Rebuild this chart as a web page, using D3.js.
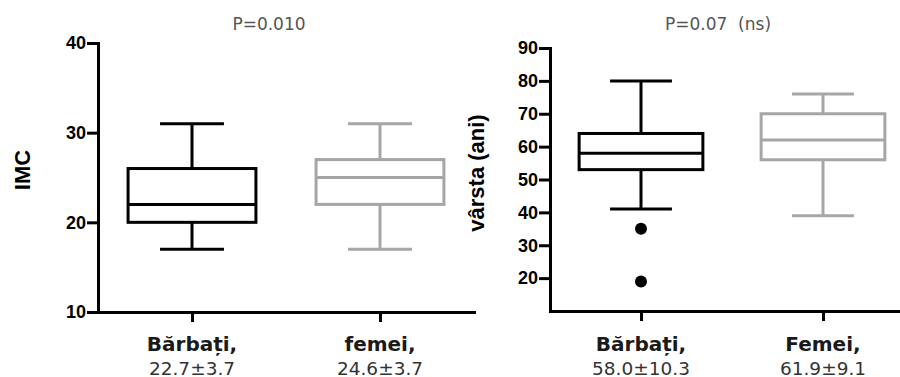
<!DOCTYPE html>
<html>
<head>
<meta charset="utf-8">
<script src="https://cdn.jsdelivr.net/npm/d3@7"></script>
<style>
  body { margin: 0; background: #fff; }
  svg { display: block; }
</style>
</head>
<body>
<div id="chart"></div>
<script>
// IMC panel
const imcCategories = ['Bărbați,', 'femei,'];
const imcStats = ['22.7±3.7', '24.6±3.7'];
const imcLow = [17, 17];
const imcQ1 = [20, 22];
const imcMedian = [22, 25];
const imcQ3 = [26, 27];
const imcHigh = [31, 31];
const imcOutliers = [[], []];
const imcTicks = [10, 20, 30, 40];

// age panel
const ageCategories = ['Bărbați,', 'Femei,'];
const ageStats = ['58.0±10.3', '61.9±9.1'];
const ageLow = [41, 39];
const ageQ1 = [53, 56];
const ageMedian = [58, 62];
const ageQ3 = [64, 70];
const ageHigh = [80, 76];
const ageOutliers = [[35, 19], []];
const ageTicks = [20, 30, 40, 50, 60, 70, 80, 90];

const boxColors = ['#000000', '#a6a6a6'];

const width = 900;
const height = 377;

const svg = d3.select('#chart').append('svg')
    .attr('width', width)
    .attr('height', height);

function drawPanel(opts) {
    const g = svg.append('g');

    const x = d3.scalePoint()
        .domain(opts.categories)
        .range(opts.xRange)
        .padding(0.5);
    const step = x.step();
    const boxW = step * 0.68;
    const capW = boxW / 2;

    const y = d3.scaleLinear()
        .domain(opts.yDomain)
        .range(opts.yRange);

    const rows = opts.categories.map((c, i) => ({
        key: c,
        stat: opts.stats[i],
        low: opts.low[i],
        q1: opts.q1[i],
        median: opts.median[i],
        q3: opts.q3[i],
        high: opts.high[i],
        outliers: opts.outliers[i],
        color: boxColors[i]
    }));

    // whisker stems
    g.selectAll('.stem').data(rows).enter().append('line')
        .attr('x1', d => x(d.key)).attr('x2', d => x(d.key))
        .attr('y1', d => y(d.low)).attr('y2', d => y(d.high))
        .attr('stroke', d => d.color).attr('stroke-width', 3);

    // boxes
    g.selectAll('.box').data(rows).enter().append('rect')
        .attr('x', d => x(d.key) - boxW / 2)
        .attr('width', boxW)
        .attr('y', d => y(d.q3))
        .attr('height', d => y(d.q1) - y(d.q3))
        .attr('fill', '#fff')
        .attr('stroke', d => d.color)
        .attr('stroke-width', 3);

    // median line
    g.selectAll('.median').data(rows).enter().append('line')
        .attr('x1', d => x(d.key) - boxW / 2).attr('x2', d => x(d.key) + boxW / 2)
        .attr('y1', d => y(d.median)).attr('y2', d => y(d.median))
        .attr('stroke', d => d.color).attr('stroke-width', 3);

    // caps
    ['low', 'high'].forEach(k => {
        g.selectAll('.cap-' + k).data(rows).enter().append('line')
            .attr('x1', d => x(d.key) - capW / 2).attr('x2', d => x(d.key) + capW / 2)
            .attr('y1', d => y(d[k])).attr('y2', d => y(d[k]))
            .attr('stroke', d => d.color).attr('stroke-width', 3);
    });

    // outliers
    rows.forEach(r => {
        g.selectAll(null).data(r.outliers).enter().append('circle')
            .attr('cx', x(r.key))
            .attr('cy', v => y(v))
            .attr('r', 6)
            .attr('fill', r.color);
    });

    // y axis
    const yAxis = g.append('g')
        .attr('transform', 'translate(' + opts.xRange[0] + ',0)')
        .call(d3.axisLeft(y).tickValues(opts.ticks).tickSize(11).tickSizeOuter(0).tickPadding(1));
    yAxis.select('.domain').attr('stroke-width', 3).attr('stroke-linecap', 'square');
    yAxis.selectAll('.tick line').attr('stroke-width', 3);
    yAxis.selectAll('.tick text')
        .attr('font-family', 'Liberation Sans, Arial, sans-serif')
        .attr('font-weight', 'bold')
        .attr('font-size', 18)
        .attr('fill', '#000');

    // x axis
    const xAxis = g.append('g')
        .attr('transform', 'translate(0,' + y(opts.yDomain[0]) + ')')
        .call(d3.axisBottom(x).tickSize(10).tickSizeOuter(0).tickFormat(''));
    xAxis.select('.domain').attr('stroke-width', 3).attr('stroke-linecap', 'square');
    xAxis.selectAll('.tick line').attr('stroke-width', 3);
    xAxis.selectAll('.tick text').remove();

    g.selectAll('.cat').data(rows).enter().append('text')
        .attr('x', d => x(d.key))
        .attr('y', 351)
        .attr('text-anchor', 'middle')
        .attr('font-family', 'DejaVu Sans, sans-serif')
        .attr('font-weight', 'bold')
        .attr('font-size', 20)
        .attr('fill', '#1a1a1a')
        .text(d => d.key);

    g.selectAll('.stat').data(rows).enter().append('text')
        .attr('x', d => x(d.key))
        .attr('y', 375)
        .attr('text-anchor', 'middle')
        .attr('font-family', 'DejaVu Sans, sans-serif')
        .attr('font-size', 18.5)
        .attr('fill', '#333')
        .text(d => d.stat);

    // title
    g.append('text')
        .attr('x', opts.titleX)
        .attr('y', 30)
        .attr('text-anchor', 'middle')
        .attr('font-family', 'DejaVu Sans, sans-serif')
        .attr('font-size', 17)
        .attr('fill', '#555')
        .style('white-space', 'pre')
        .text(opts.title);

    // y label
    g.append('text')
        .attr('transform', 'translate(' + opts.labelX + ',' + opts.labelY + ') rotate(-90)')
        .attr('text-anchor', 'middle')
        .attr('font-family', 'Liberation Sans, Arial, sans-serif')
        .attr('font-weight', 'bold')
        .attr('font-size', 22)
        .attr('fill', '#000')
        .text(opts.yLabel);
}

drawPanel({
    categories: imcCategories, stats: imcStats,
    low: imcLow, q1: imcQ1, median: imcMedian, q3: imcQ3, high: imcHigh,
    outliers: imcOutliers, ticks: imcTicks,
    yDomain: [10, 40], yRange: [312, 43],
    xRange: [98, 474],
    title: 'P=0.010', titleX: 269,
    yLabel: 'IMC', labelX: 30, labelY: 170
});

drawPanel({
    categories: ageCategories, stats: ageStats,
    low: ageLow, q1: ageQ1, median: ageMedian, q3: ageQ3, high: ageHigh,
    outliers: ageOutliers, ticks: ageTicks,
    yDomain: [10, 90], yRange: [311, 48],
    xRange: [550, 914],
    title: 'P=0.07  (ns)', titleX: 718,
    yLabel: 'vârsta (ani)', labelX: 484, labelY: 173
});
</script>
</body>
</html>
